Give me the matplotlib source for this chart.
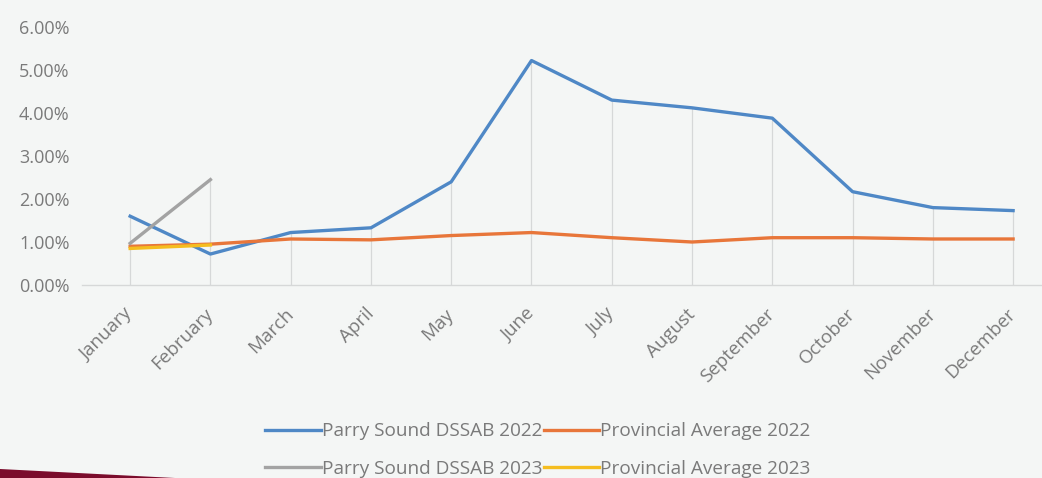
import matplotlib
matplotlib.use("Agg")
import matplotlib.pyplot as plt
import numpy as np
from matplotlib.patches import Polygon

months = ["January", "February", "March", "April", "May", "June", "July",
          "August", "September", "October", "November", "December"]
ps_2022 = [1.60, 0.72, 1.22, 1.33, 2.40, 5.22, 4.30, 4.12, 3.88, 2.17, 1.80, 1.73]
prov_2022 = [0.90, 0.95, 1.07, 1.05, 1.15, 1.22, 1.10, 1.00, 1.10, 1.10, 1.07, 1.07]
ps_2023 = [0.97, 2.45]
prov_2023 = [0.85, 0.93]
yticks = [0, 1, 2, 3, 4, 5, 6]

bg = "#f4f6f5"
txt = "#7a7a7a"
plt.rcParams['font.family'] = ['Open Sans', 'DejaVu Sans']

fig = plt.figure(figsize=(10.42, 4.78), dpi=100, facecolor=bg)
ax = fig.add_axes([82/1042, (478-285)/478, 960/1042, 265/478], facecolor=bg)

x = np.arange(len(months))
# drop lines
allv = np.full((4, len(months)), np.nan)
allv[0] = ps_2022
allv[1] = prov_2022
allv[2, :2] = ps_2023
allv[3, :2] = prov_2023
top = np.nanmax(allv, axis=0)
ax.vlines(x, 0, top, color="#d6d8d8", lw=0.9, zorder=1)

l1, = ax.plot(x, ps_2022, color="#4f88c6", lw=2.4, label="Parry Sound DSSAB 2022", zorder=3)
l2, = ax.plot(x, prov_2022, color="#e8763a", lw=2.4, label="Provincial Average 2022", zorder=3)
l3, = ax.plot(x[:2], ps_2023, color="#a3a3a3", lw=2.4, label="Parry Sound DSSAB 2023", zorder=3)
l4, = ax.plot(x[:2], prov_2023, color="#f5bd1f", lw=2.4, label="Provincial Average 2023", zorder=4)

ax.set_xlim(-0.6, 11.36)
ax.set_ylim(0, 265/43)
ax.set_yticks(yticks)
ax.set_yticklabels([f"{v:.2f}%" for v in yticks])
ax.set_xticks(x)
ax.set_xticklabels(months, rotation=45, ha="right", va="center", rotation_mode="anchor")
ax.tick_params(axis="both", length=0, colors=txt)
ax.tick_params(axis="x", pad=19, labelsize=13.5)
ax.tick_params(axis="y", pad=9, labelsize=13)
for s in ["top", "right", "left"]:
    ax.spines[s].set_visible(False)
ax.spines["bottom"].set_color("#d6d8d8")
ax.spines["bottom"].set_linewidth(1.0)

leg = fig.legend(handles=[l1, l3, l2, l4], ncol=2, loc="center",
                 bbox_to_anchor=(538/1042, (478-450)/478), frameon=False,
                 fontsize=13.7, handlelength=2.9, handletextpad=0.05,
                 columnspacing=0.1, labelspacing=1.0)
for t in leg.get_texts():
    t.set_color(txt)

# decorative maroon band at bottom-left
fig.patches.append(Polygon([(0, 0), (0, 9/478), (175/1042, 0)], closed=True,
                           transform=fig.transFigure, facecolor="#7b0c2c",
                           edgecolor="none"))

fig.savefig("out.png", dpi=100, facecolor=bg)
